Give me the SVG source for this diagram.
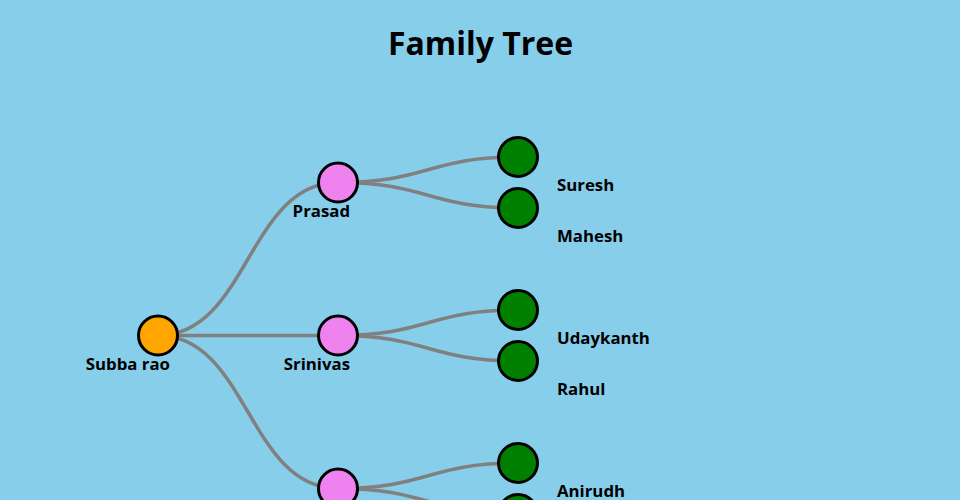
<svg xmlns="http://www.w3.org/2000/svg" width="960" height="500" viewBox="0 0 960 500">
<style>
.link{fill:none;stroke:#808080;stroke-width:3.5}
.node circle{stroke:#000;stroke-width:3}
.root circle{fill:#FFA500}
.mid circle{fill:#EE82EE}
.leaf circle{fill:#008000}
text{font-family:"Open Sans","Noto Sans","DejaVu Sans",sans-serif;font-weight:bold;fill:#000}
.lbl{font-size:16.8px}
.end{text-anchor:end}
</style>
<rect width="960" height="500" fill="#87CEEB"/>
<text x="480.5" y="55" text-anchor="middle" font-size="32">Family Tree</text>
<g id="connectors">
<path class="link" d="M158,335.5 C248,335.5 248,182.5 338,182.5"/>
<path class="link" d="M158,335.5 L338,335.5"/>
<path class="link" d="M158,335.5 C248,335.5 248,488.5 338,488.5"/>
<path class="link" d="M338,182.5 C428,182.5 428,157 518,157"/>
<path class="link" d="M338,182.5 C428,182.5 428,208 518,208"/>
<path class="link" d="M338,335.5 C428,335.5 428,310 518,310"/>
<path class="link" d="M338,335.5 C428,335.5 428,361 518,361"/>
<path class="link" d="M338,488.5 C428,488.5 428,463 518,463"/>
<path class="link" d="M338,488.5 C428,488.5 428,514 518,514"/>
</g>
<g id="node-subba-rao" class="node root"><circle cx="158" cy="335.5" r="19.5"/><text class="lbl end" x="170" y="369.5">Subba rao</text></g>
<g id="node-prasad" class="node mid"><circle cx="338" cy="182.5" r="19.5"/><text class="lbl end" x="350" y="216.5">Prasad</text></g>
<g id="node-srinivas" class="node mid"><circle cx="338" cy="335.5" r="19.5"/><text class="lbl end" x="350" y="369.5">Srinivas</text></g>
<g id="node-mid3" class="node mid"><circle cx="338" cy="488.5" r="19.5"/></g>
<g id="node-suresh" class="node leaf"><circle cx="518" cy="157" r="19.5"/><text class="lbl" x="557" y="191">Suresh</text></g>
<g id="node-mahesh" class="node leaf"><circle cx="518" cy="208" r="19.5"/><text class="lbl" x="557" y="242">Mahesh</text></g>
<g id="node-udaykanth" class="node leaf"><circle cx="518" cy="310" r="19.5"/><text class="lbl" x="557" y="344">Udaykanth</text></g>
<g id="node-rahul" class="node leaf"><circle cx="518" cy="361" r="19.5"/><text class="lbl" x="557" y="395">Rahul</text></g>
<g id="node-anirudh" class="node leaf"><circle cx="518" cy="463" r="19.5"/><text class="lbl" x="557" y="497">Anirudh</text></g>
<g id="node-leaf6" class="node leaf"><circle cx="518" cy="514" r="19.5"/></g>
</svg>
